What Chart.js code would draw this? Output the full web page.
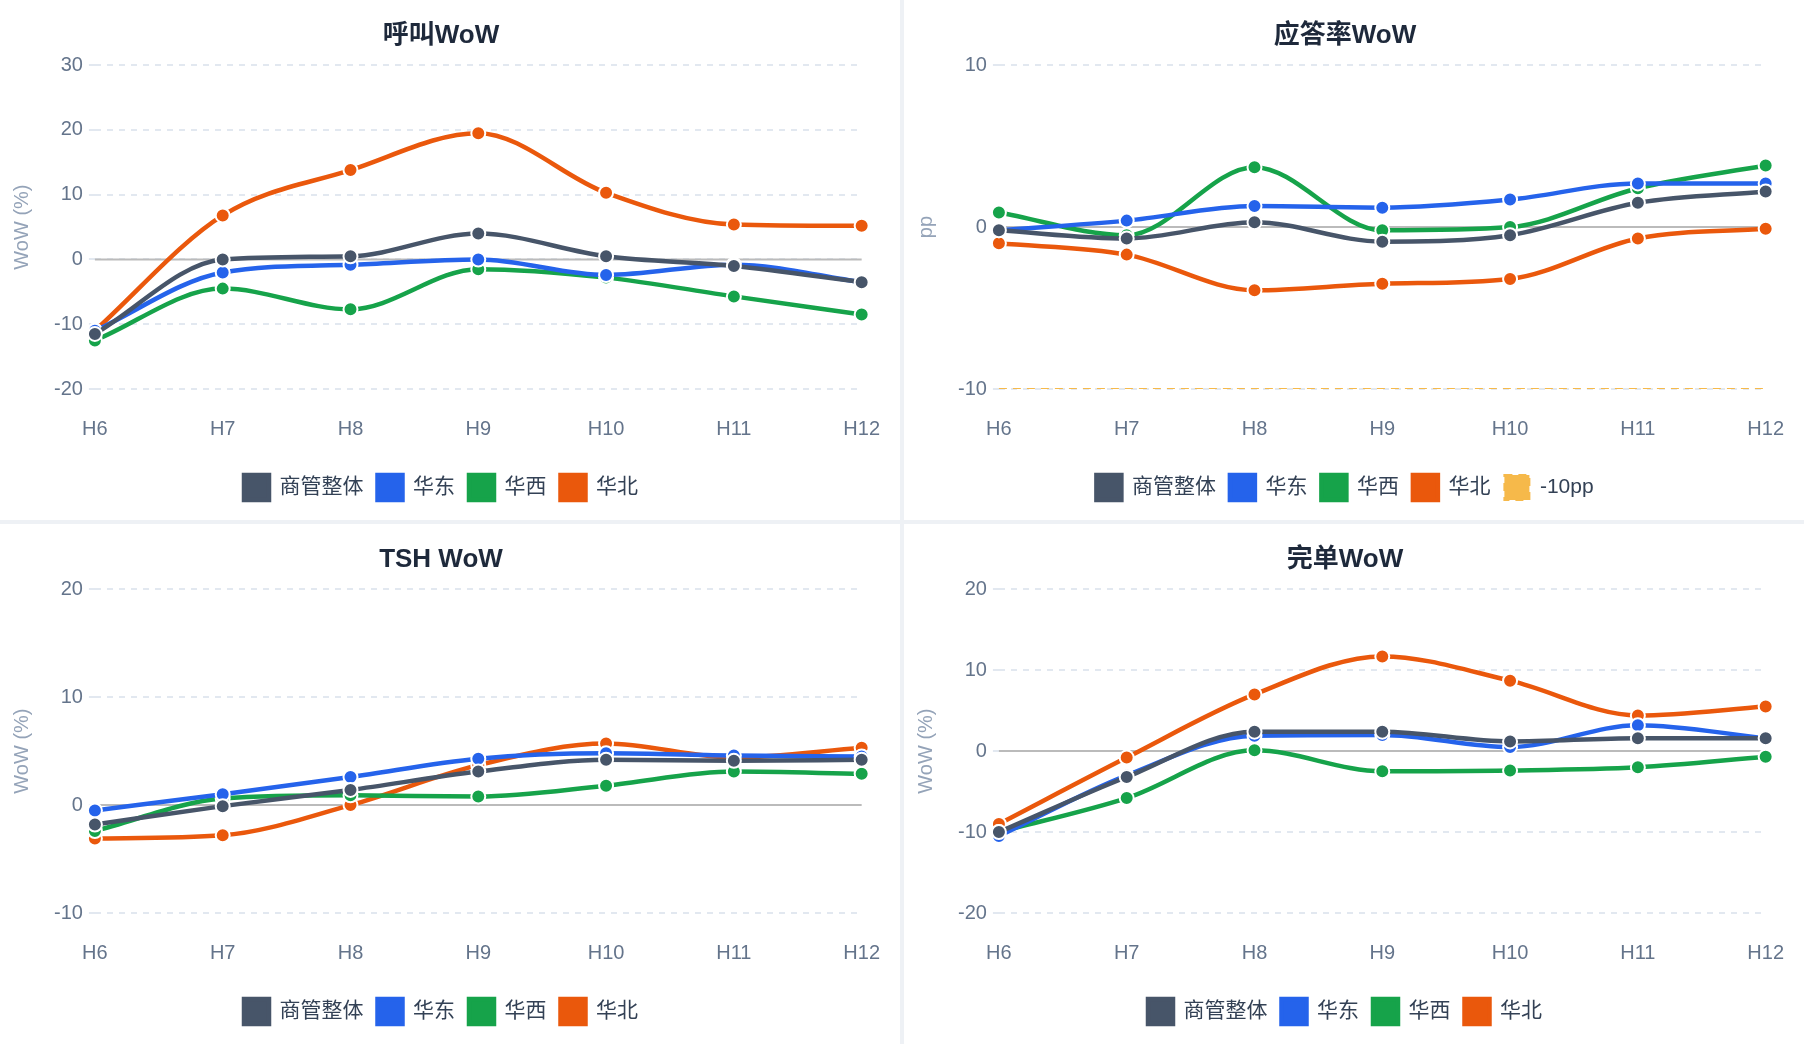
<!DOCTYPE html>
<html>
<head>
<meta charset="utf-8">
<script src="https://cdn.jsdelivr.net/npm/chart.js@4"></script>
<style>
  html, body { margin: 0; padding: 0; background: #eef1f5; }
  .grid { display: grid; grid-template-columns: 900px 900px; grid-template-rows: 520px 520px; gap: 4px; width: 1804px; height: 1044px; }
  .cell { background: #fff; position: relative; }
  canvas { display: block; }
</style>
</head>
<body>
<div class="grid">
  <div class="cell"><canvas id="c1" width="900" height="520"></canvas></div>
  <div class="cell"><canvas id="c2" width="900" height="520"></canvas></div>
  <div class="cell"><canvas id="c3" width="900" height="520"></canvas></div>
  <div class="cell"><canvas id="c4" width="900" height="520"></canvas></div>
</div>
<script>
const hours = ['H6', 'H7', 'H8', 'H9', 'H10', 'H11', 'H12'];
const seriesNames = ['商管整体', '华东', '华西', '华北'];
const seriesColors = ['#475569', '#2563eb', '#16a34a', '#ea580c'];

const callAll = [-11.5, 0, 0.5, 4, 0.5, -1, -3.5];
const callEast = [-11, -2, -0.8, 0, -2.4, -0.8, -3.5];
const callWest = [-12.5, -4.5, -7.7, -1.5, -2.8, -5.7, -8.5];
const callNorth = [-11, 6.8, 13.8, 19.5, 10.3, 5.4, 5.2];

const ansAll = [-0.2, -0.7, 0.3, -0.9, -0.5, 1.5, 2.2];
const ansEast = [-0.2, 0.4, 1.3, 1.2, 1.7, 2.7, 2.7];
const ansWest = [0.9, -0.5, 3.7, -0.2, 0, 2.4, 3.8];
const ansNorth = [-1, -1.7, -3.9, -3.5, -3.2, -0.7, -0.1];
const ansLimit = [-10, -10, -10, -10, -10, -10, -10];

const tshAll = [-1.8, -0.1, 1.4, 3.1, 4.2, 4.1, 4.2];
const tshEast = [-0.5, 1.0, 2.6, 4.3, 4.8, 4.6, 4.5];
const tshWest = [-2.4, 0.6, 0.9, 0.8, 1.8, 3.1, 2.9];
const tshNorth = [-3.1, -2.8, 0, 3.7, 5.7, 4.4, 5.3];

const doneAll = [-10, -3.2, 2.4, 2.4, 1.2, 1.6, 1.6];
const doneEast = [-10.5, -3, 1.9, 2, 0.5, 3.2, 1.6];
const doneWest = [-10, -5.8, 0.1, -2.5, -2.4, -2, -0.7];
const doneNorth = [-9, -0.8, 7, 11.7, 8.7, 4.4, 5.5];

const font = "'Liberation Sans', 'Noto Sans CJK SC', sans-serif";
Chart.defaults.font.family = font;

function lineSets(values) {
    return values.map((data, i) => ({
        label: seriesNames[i],
        data: data,
        borderColor: seriesColors[i],
        backgroundColor: seriesColors[i],
        borderWidth: 4.5,
        tension: 0.4,
        cubicInterpolationMode: 'monotone',
        pointRadius: 7,
        pointBorderColor: '#fff',
        pointBorderWidth: 2,
        pointBackgroundColor: seriesColors[i],
    }));
}

function createChart(elementId, title, yTitle, min, max, step, datasets) {
    return new Chart(document.getElementById(elementId), {
        type: 'line',
        data: { labels: hours, datasets: datasets },
        options: {
            responsive: false,
            animation: false,
            layout: { padding: { left: 6, right: 24, top: 8, bottom: 10 } },
            plugins: {
                title: {
                    display: true, text: title, color: '#1e293b',
                    font: { size: 26, weight: 'bold' }, padding: { top: 12, bottom: 14 }
                },
                legend: {
                    position: 'bottom',
                    labels: { color: '#334155', font: { size: 21 }, boxWidth: 25, boxHeight: 25, padding: 14 }
                }
            },
            scales: {
                x: {
                    offset: false,
                    grid: { display: false },
                    border: { display: false },
                    ticks: { color: '#64748b', font: { size: 20 }, padding: 20 }
                },
                y: {
                    min: min, max: max,
                    title: { display: true, text: yTitle, color: '#94a3b8', font: { size: 20 }, padding: { bottom: 14 } },
                    border: { display: false, dash: [6, 6] },
                    grid: {
                        color: '#e2e8f0',
                        lineWidth: 2,
                        tickLength: 6,
                    },
                    ticks: { stepSize: step, color: '#64748b', font: { size: 20 }, padding: 6 }
                }
            }
        },
        plugins: [{
            id: 'solidZero',
            beforeDatasetsDraw(chart) {
                const y = chart.scales.y, x = chart.scales.x;
                if (y.min < 0 && y.max > 0) {
                    const c = chart.ctx, py = y.getPixelForValue(0);
                    c.save(); c.strokeStyle = '#bbbbbb'; c.lineWidth = 2; c.setLineDash([]);
                    c.beginPath(); c.moveTo(x.left, py); c.lineTo(x.right, py); c.stroke(); c.restore();
                }
            }
        }]
    });
}

createChart('c1', '呼叫WoW', 'WoW (%)', -20, 30, 10, lineSets([callAll, callEast, callWest, callNorth]));

const ans = lineSets([ansAll, ansEast, ansWest, ansNorth]);
ans.push({
    label: '-10pp', data: ansLimit, borderColor: '#f6b94a', backgroundColor: '#f6b94a',
    borderWidth: 2, borderDash: [8, 6], pointRadius: 0, tension: 0
});
createChart('c2', '应答率WoW', 'pp', -10, 10, 10, ans);

createChart('c3', 'TSH WoW', 'WoW (%)', -10, 20, 10, lineSets([tshAll, tshEast, tshWest, tshNorth]));
createChart('c4', '完单WoW', 'WoW (%)', -20, 20, 10, lineSets([doneAll, doneEast, doneWest, doneNorth]));
</script>
</body>
</html>
